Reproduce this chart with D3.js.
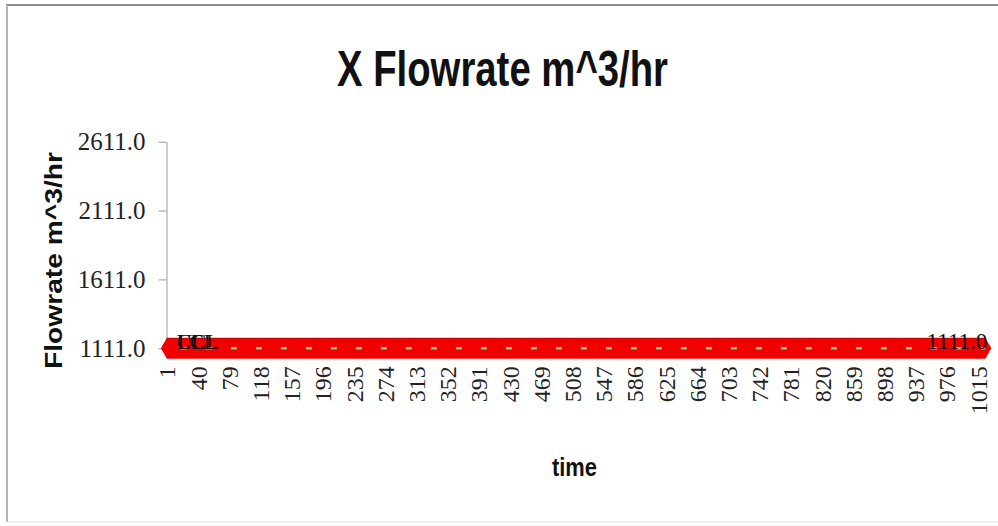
<!DOCTYPE html>
<html>
<head>
<meta charset="utf-8">
<script src="https://cdn.jsdelivr.net/npm/d3@7/dist/d3.min.js"></script>
<style>
  html, body { margin: 0; padding: 0; background: #fff; }
  svg { display: block; }
</style>
</head>
<body>
<svg id="chart" width="998" height="526"></svg>
<script>
// ---- data -------------------------------------------------------------
const chartTitle = "X Flowrate m^3/hr";
const yAxisTitle = "Flowrate m^3/hr";
const xAxisTitle = "time";

// number of time samples on the category axis
const sampleCount = 1024;
// every sample of the flow series reads 1111.0 m^3/hr
const flowReading = 1111.0;
// control limits (all collapse onto the same level)
const limitNames  = ["UCL", "LCL", "CL"];
const limitValues = [1111.0, 1111.0, 1111.0];

// y axis ticks
const yTicks = [1111.0, 1611.0, 2111.0, 2611.0];
// x axis labels are shown every 39th sample starting at 1
const xLabelStep = 39;

const times = d3.range(1, sampleCount + 1);
const flowSeries = times.map(t => ({ t, v: flowReading }));
const limitSeries = limitNames.map((name, i) => ({
  name,
  values: times.map(t => ({ t, v: limitValues[i] }))
}));
const xTickValues = times.filter(t => (t - 1) % xLabelStep === 0);

// ---- layout -----------------------------------------------------------
const svg = d3.select("#chart");
const plot = { left: 166.5, right: 985.7, top: 141.7, bottom: 348.3 };

svg.append("rect").attr("width", 998).attr("height", 526).attr("fill", "#fff");

// chart frame
svg.append("line").attr("x1", 6).attr("x2", 998).attr("y1", 5).attr("y2", 5)
  .attr("stroke", "#8c8c8c").attr("stroke-width", 2);
svg.append("line").attr("x1", 7).attr("x2", 7).attr("y1", 5).attr("y2", 522)
  .attr("stroke", "#b4b4b4").attr("stroke-width", 2);
svg.append("line").attr("x1", 7).attr("x2", 998).attr("y1", 522).attr("y2", 522)
  .attr("stroke", "#ececec").attr("stroke-width", 1.5);

const x = d3.scaleBand().domain(times).range([plot.left, plot.right]).padding(0);
const xc = t => x(t) + x.bandwidth() / 2;
const y = d3.scaleLinear().domain([1111, 2611]).range([plot.bottom, plot.top]);

// ---- axes -------------------------------------------------------------
const yAxis = svg.append("g")
  .attr("transform", `translate(${plot.left},0)`)
  .call(d3.axisLeft(y).tickValues(yTicks).tickFormat(d3.format(".1f"))
    .tickSize(8).tickSizeOuter(0).tickPadding(13));
yAxis.select(".domain").attr("stroke", "#9a9a9a");
yAxis.selectAll(".tick line").attr("stroke", "#9a9a9a");
yAxis.selectAll(".tick text")
  .attr("font-family", "'Liberation Serif', 'Times New Roman', serif")
  .attr("font-size", 25).attr("fill", "#222");

const xAxis = svg.append("g")
  .attr("transform", `translate(0,${plot.bottom})`)
  .call(d3.axisBottom(x).tickValues(xTickValues).tickSize(0).tickSizeOuter(0));
xAxis.select(".domain").attr("stroke", "#9a9a9a");
xAxis.selectAll(".tick text")
  .attr("font-family", "'Liberation Serif', 'Times New Roman', serif")
  .attr("font-size", 24).attr("fill", "#222")
  .attr("transform", "rotate(-90)")
  .attr("text-anchor", "end")
  .attr("x", -18).attr("y", 0).attr("dy", "0.35em");

// ---- series -----------------------------------------------------------
const line = d3.line().x(d => xc(d.t)).y(d => y(d.v));

// control limit lines: heavy red strokes
svg.append("g").selectAll("path").data(limitSeries).join("path")
  .attr("d", d => line(d.values))
  .attr("fill", "none").attr("stroke", "#ee0000").attr("stroke-width", 20);

// diamond markers on every sample of the flow series
const diamond = "M-6,0L0,-10.5L6,0L0,10.5Z";
svg.append("g").selectAll("path").data(flowSeries).join("path")
  .attr("d", diamond)
  .attr("transform", d => `translate(${xc(d.t)},${y(d.v)})`)
  .attr("fill", "#f20000");

// thin edges of the band
svg.append("path").datum(flowSeries)
  .attr("d", d3.line().x(d => xc(d.t)).y(d => y(d.v) - 10))
  .attr("fill", "none").attr("stroke", "#c40000").attr("stroke-width", 1);

// flow line, dashed green
svg.append("path").datum(flowSeries)
  .attr("d", line)
  .attr("fill", "none").attr("stroke", "#a9c38c").attr("stroke-width", 2.5)
  .attr("stroke-dasharray", "6 19").attr("stroke-dashoffset", -14);

// ---- data labels ------------------------------------------------------
const first = flowSeries[0], last = flowSeries[flowSeries.length - 1];
svg.append("g").selectAll("text").data(limitSeries).join("text")
  .attr("x", xc(first.t) + 10).attr("y", y(first.v) + 1)
  .attr("font-family", "'Liberation Serif', 'Times New Roman', serif")
  .attr("font-size", 21).attr("fill", "#111")
  .text(d => d.name);

svg.append("text")
  .attr("x", xc(last.t) + 2).attr("y", y(last.v) + 1)
  .attr("text-anchor", "end")
  .attr("font-family", "'Liberation Serif', 'Times New Roman', serif")
  .attr("font-size", 23).attr("fill", "#111")
  .text(d3.format(".1f")(last.v));

// ---- titles -----------------------------------------------------------
svg.append("text")
  .attr("x", 337).attr("y", 86)
  .attr("font-family", "'Liberation Sans Narrow', 'Arial Narrow', 'Liberation Sans', sans-serif")
  .attr("font-weight", "bold").attr("font-size", 50).attr("fill", "#111")
  .attr("textLength", 331).attr("lengthAdjust", "spacingAndGlyphs")
  .text(chartTitle);

svg.append("text")
  .attr("transform", "translate(62,369) rotate(-90)")
  .attr("font-family", "'Liberation Sans', Arial, sans-serif")
  .attr("font-weight", "bold").attr("font-size", 23).attr("fill", "#111")
  .attr("textLength", 217).attr("lengthAdjust", "spacingAndGlyphs")
  .text(yAxisTitle);

svg.append("text")
  .attr("x", 552).attr("y", 476)
  .attr("font-family", "'Liberation Sans Narrow', 'Arial Narrow', 'Liberation Sans', sans-serif")
  .attr("font-weight", "bold").attr("font-size", 25).attr("fill", "#111")
  .attr("textLength", 45).attr("lengthAdjust", "spacingAndGlyphs")
  .text(xAxisTitle);
</script>
</body>
</html>
